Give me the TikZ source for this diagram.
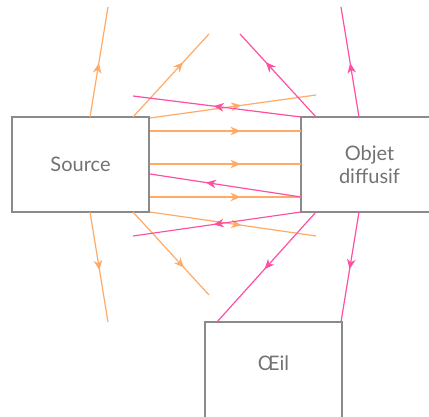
\documentclass[tikz,border=0pt]{standalone}
\usepackage{fontspec}
\setmainfont{Lato}
\usetikzlibrary{arrows.meta,decorations.markings}
\definecolor{rayor}{HTML}{FFAA66}
\definecolor{raypk}{HTML}{FF4FA3}
\definecolor{boxgray}{HTML}{8A8A8A}
\definecolor{txtgray}{HTML}{727272}
\tikzset{
  boxnode/.style={draw=boxgray, line width=1.4pt, minimum width=137pt, minimum height=95pt,
    inner sep=0pt, align=center, text=txtgray, font=\fontsize{20}{23}\selectfont},
  ray/.style={line width=1.2pt},
  orray/.style={ray, draw=rayor},
  pkray/.style={ray, draw=raypk},
  oarr/.style={orray, postaction={decorate}, decoration={markings,
    mark=at position #1 with {\arrow[rayor]{Stealth[length=10pt,width=8.5pt,inset=3pt]}}}},
  parr/.style={pkray, postaction={decorate}, decoration={markings,
    mark=at position #1 with {\arrow[raypk]{Stealth[length=10pt,width=8.5pt,inset=3pt]}}}},
}
\begin{document}
\begin{tikzpicture}[x=1pt,y=-1pt]
\useasboundingbox (0,0) rectangle (429,417);
\node[boxnode] (src) at (80.5,164.5) {Source};
\node[boxnode] (obj) at (369.5,164.5) {Objet\\diffusif};
\node[boxnode, minimum height=96pt, text depth=14pt] (eye) at (273.5,370) {Œil};
% coordinates on box edges
\coordinate (s1) at (90,117);
\coordinate (s2) at (133,117);
\coordinate (s3) at (150,118);
\coordinate (sh1) at (150,131);
\coordinate (sh2) at (150,164);
\coordinate (sh3) at (150,197);
\coordinate (sp) at (150,174);
\coordinate (s4) at (150,212);
\coordinate (s5) at (90,212);
\coordinate (s6) at (133,212);
\coordinate (o1) at (301,117);
\coordinate (oh1) at (301,131);
\coordinate (oh2) at (301,164);
\coordinate (oh3) at (301,197);
\coordinate (o2) at (301,212);
\coordinate (o3) at (316,117);
\coordinate (o4) at (359,117);
\coordinate (o5) at (316,212);
\coordinate (o6) at (359,212);
\coordinate (e1) at (217,322);
\coordinate (e2) at (341,322);
% free ends
\coordinate (f1) at (108,7);
\coordinate (f2) at (209,34);
\coordinate (f3) at (316,95);
\coordinate (f4) at (133,96);
\coordinate (f5) at (316,236);
\coordinate (f6) at (133,236);
\coordinate (f7) at (108,322);
\coordinate (f8) at (209,295);
\coordinate (f9) at (240,34);
\coordinate (f10) at (341,7);
% orange rays
\draw[oarr=0.49] (s1) -- (f1);
\draw[oarr=0.66] (s2) -- (f2);
\draw[oarr=0.55] (s3) -- (f3);
\draw[oarr=0.60] (sh1) -- (oh1);
\draw[oarr=0.60] (sh2) -- (oh2);
\draw[oarr=0.60] (sh3) -- (oh3);
\draw[oarr=0.55] (s4) -- (f5);
\draw[oarr=0.53] (s5) -- (f7);
\draw[oarr=0.67] (s6) -- (f8);
% pink rays
\draw[parr=0.52] (o1) -- (f4);
\draw[parr=0.63] (oh3) -- (sp);
\draw[parr=0.52] (o2) -- (f6);
\draw[parr=0.66] (o3) -- (f9);
\draw[parr=0.49] (o4) -- (f10);
\draw[parr=0.52] (o5) -- (e1);
\draw[parr=0.52] (o6) -- (e2);
\end{tikzpicture}
\end{document}
